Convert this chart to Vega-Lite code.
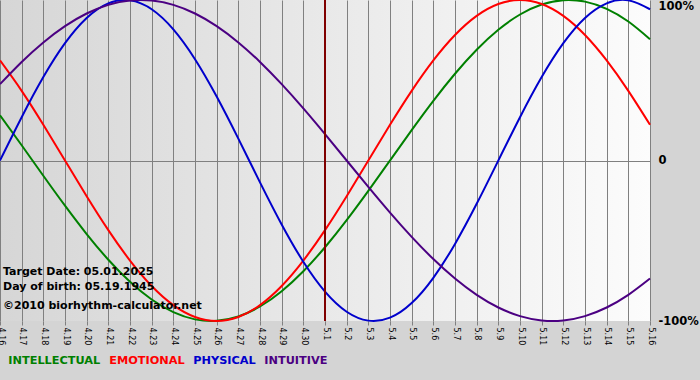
{
  "$schema": "https://vega.github.io/schema/vega-lite/v6.json",
  "width": 650,
  "height": 321,
  "autosize": {"type": "none"},
  "padding": {"left": 0, "top": 0, "right": 50, "bottom": 59},
  "background": "#d4d4d4",
  "config": {
    "view": {
      "stroke": null,
      "fill": {"gradient": "linear", "x1": 0, "y1": 0, "x2": 1, "y2": 0,
        "stops": [{"offset": 0, "color": "#d6d6d6"}, {"offset": 1, "color": "#fcfcfc"}]}
    }
  },
  "datasets": {
    "bio": [
      {"date": "2025-04-16", "INTELLECTUAL": 0.2817, "EMOTIONAL": 0.6235, "PHYSICAL": 0, "INTUITIVE": 0.4759},
      {"date": "2025-04-17", "INTELLECTUAL": 0.0951, "EMOTIONAL": 0.4339, "PHYSICAL": 0.2698, "INTUITIVE": 0.6142},
      {"date": "2025-04-18", "INTELLECTUAL": -0.0951, "EMOTIONAL": 0.2225, "PHYSICAL": 0.5196, "INTUITIVE": 0.7357},
      {"date": "2025-04-19", "INTELLECTUAL": -0.2817, "EMOTIONAL": 0, "PHYSICAL": 0.7308, "INTUITIVE": 0.8372},
      {"date": "2025-04-20", "INTELLECTUAL": -0.4582, "EMOTIONAL": -0.2225, "PHYSICAL": 0.8879, "INTUITIVE": 0.9158},
      {"date": "2025-04-21", "INTELLECTUAL": -0.6182, "EMOTIONAL": -0.4339, "PHYSICAL": 0.9791, "INTUITIVE": 0.9694},
      {"date": "2025-04-22", "INTELLECTUAL": -0.7557, "EMOTIONAL": -0.6235, "PHYSICAL": 0.9977, "INTUITIVE": 0.9966},
      {"date": "2025-04-23", "INTELLECTUAL": -0.8660, "EMOTIONAL": -0.7818, "PHYSICAL": 0.9423, "INTUITIVE": 0.9966},
      {"date": "2025-04-24", "INTELLECTUAL": -0.9449, "EMOTIONAL": -0.9010, "PHYSICAL": 0.8170, "INTUITIVE": 0.9694},
      {"date": "2025-04-25", "INTELLECTUAL": -0.9898, "EMOTIONAL": -0.9749, "PHYSICAL": 0.6311, "INTUITIVE": 0.9158},
      {"date": "2025-04-26", "INTELLECTUAL": -0.9989, "EMOTIONAL": -1, "PHYSICAL": 0.3984, "INTUITIVE": 0.8372},
      {"date": "2025-04-27", "INTELLECTUAL": -0.9718, "EMOTIONAL": -0.9749, "PHYSICAL": 0.1362, "INTUITIVE": 0.7357},
      {"date": "2025-04-28", "INTELLECTUAL": -0.9096, "EMOTIONAL": -0.9010, "PHYSICAL": -0.1362, "INTUITIVE": 0.6142},
      {"date": "2025-04-29", "INTELLECTUAL": -0.8146, "EMOTIONAL": -0.7818, "PHYSICAL": -0.3984, "INTUITIVE": 0.4759},
      {"date": "2025-04-30", "INTELLECTUAL": -0.6901, "EMOTIONAL": -0.6235, "PHYSICAL": -0.6311, "INTUITIVE": 0.3247},
      {"date": "2025-05-01", "INTELLECTUAL": -0.5406, "EMOTIONAL": -0.4339, "PHYSICAL": -0.8170, "INTUITIVE": 0.1646},
      {"date": "2025-05-02", "INTELLECTUAL": -0.3717, "EMOTIONAL": -0.2225, "PHYSICAL": -0.9423, "INTUITIVE": 0},
      {"date": "2025-05-03", "INTELLECTUAL": -0.1893, "EMOTIONAL": 0, "PHYSICAL": -0.9977, "INTUITIVE": -0.1646},
      {"date": "2025-05-04", "INTELLECTUAL": 0, "EMOTIONAL": 0.2225, "PHYSICAL": -0.9791, "INTUITIVE": -0.3247},
      {"date": "2025-05-05", "INTELLECTUAL": 0.1893, "EMOTIONAL": 0.4339, "PHYSICAL": -0.8879, "INTUITIVE": -0.4759},
      {"date": "2025-05-06", "INTELLECTUAL": 0.3717, "EMOTIONAL": 0.6235, "PHYSICAL": -0.7308, "INTUITIVE": -0.6142},
      {"date": "2025-05-07", "INTELLECTUAL": 0.5406, "EMOTIONAL": 0.7818, "PHYSICAL": -0.5196, "INTUITIVE": -0.7357},
      {"date": "2025-05-08", "INTELLECTUAL": 0.6901, "EMOTIONAL": 0.9010, "PHYSICAL": -0.2698, "INTUITIVE": -0.8372},
      {"date": "2025-05-09", "INTELLECTUAL": 0.8146, "EMOTIONAL": 0.9749, "PHYSICAL": 0, "INTUITIVE": -0.9158},
      {"date": "2025-05-10", "INTELLECTUAL": 0.9096, "EMOTIONAL": 1, "PHYSICAL": 0.2698, "INTUITIVE": -0.9694},
      {"date": "2025-05-11", "INTELLECTUAL": 0.9718, "EMOTIONAL": 0.9749, "PHYSICAL": 0.5196, "INTUITIVE": -0.9966},
      {"date": "2025-05-12", "INTELLECTUAL": 0.9989, "EMOTIONAL": 0.9010, "PHYSICAL": 0.7308, "INTUITIVE": -0.9966},
      {"date": "2025-05-13", "INTELLECTUAL": 0.9898, "EMOTIONAL": 0.7818, "PHYSICAL": 0.8879, "INTUITIVE": -0.9694},
      {"date": "2025-05-14", "INTELLECTUAL": 0.9449, "EMOTIONAL": 0.6235, "PHYSICAL": 0.9791, "INTUITIVE": -0.9158},
      {"date": "2025-05-15", "INTELLECTUAL": 0.8660, "EMOTIONAL": 0.4339, "PHYSICAL": 0.9977, "INTUITIVE": -0.8372},
      {"date": "2025-05-16", "INTELLECTUAL": 0.7557, "EMOTIONAL": 0.2225, "PHYSICAL": 0.9423, "INTUITIVE": -0.7357}
    ],
    "marker": [{"date": "2025-05-01"}],
    "notes": [
      {"date": "2025-04-16", "value": -0.695, "text": "Target Date: 05.01.2025"},
      {"date": "2025-04-16", "value": -0.79, "text": "Day of birth: 05.19.1945"},
      {"date": "2025-04-16", "value": -0.907, "text": "©2010 biorhythm-calculator.net"}
    ]
  },
  "encoding": {
    "x": {
      "field": "date", "type": "temporal",
      "scale": {"type": "utc", "nice": false},
      "axis": {
        "title": null, "format": "%-m.%-d",
        "tickCount": {"interval": "day", "step": 1},
        "labelAngle": 90, "labelFont": "DejaVu Sans", "labelFontSize": 8, "labelColor": "#000000",
        "labelOverlap": false, "labelBound": false, "labelFlush": false, "labelPadding": 2,
        "grid": true, "gridColor": "#808080", "gridWidth": 1, "gridOpacity": 1,
        "ticks": true, "tickColor": "#808080", "tickSize": 4, "domain": false
      }
    }
  },
  "layer": [
    {
      "data": {"name": "bio"},
      "transform": [{"fold": ["INTELLECTUAL", "EMOTIONAL", "PHYSICAL", "INTUITIVE"], "as": ["series", "value"]}],
      "mark": {"type": "line", "interpolate": "natural", "strokeWidth": 2},
      "encoding": {
        "y": {
          "field": "value", "type": "quantitative",
          "scale": {"domain": [-1, 1], "nice": false, "zero": false},
          "axis": {
            "title": null, "orient": "right", "values": [-1, 0, 1],
            "labelExpr": "datum.value === 1 ? '100%' : (datum.value === -1 ? '-100%' : '0')",
            "labelFont": "DejaVu Sans", "labelFontSize": 11.5, "labelFontWeight": "bold", "labelColor": "#000000",
            "labelPadding": 8, "ticks": false, "domain": false,
            "labelBaseline": {"condition": {"test": "datum.value === 1", "value": "top"}, "value": "middle"},
            "grid": true, "gridColor": "#808080", "gridWidth": 1,
            "gridOpacity": {"condition": {"test": "datum.value === 0", "value": 1}, "value": 0}
          }
        },
        "color": {
          "field": "series", "type": "nominal",
          "scale": {"domain": ["INTELLECTUAL", "EMOTIONAL", "PHYSICAL", "INTUITIVE"],
                    "range": ["#008000", "#ff0000", "#0000cc", "#4b0082"]},
          "legend": {
            "title": null, "orient": "none", "legendX": 8, "legendY": 355, "direction": "horizontal",
            "symbolSize": 0, "symbolOpacity": 0, "symbolStrokeWidth": 0, "labelOffset": -11, "columnPadding": 8,
            "labelFont": "DejaVu Sans", "labelFontSize": 11.3, "labelFontWeight": "bold", "labelLimit": 0,
            "labelColor": {"expr": "scale('color', datum.value)"}
          }
        }
      }
    },
    {
      "data": {"name": "marker"},
      "mark": {"type": "rule", "color": "#800000", "strokeWidth": 2},
      "encoding": {}
    },
    {
      "data": {"name": "notes"},
      "mark": {"type": "text", "align": "left", "baseline": "middle", "dx": 3,
               "font": "DejaVu Sans", "fontSize": 11, "fontWeight": "bold", "color": "#000000"},
      "encoding": {
        "y": {"field": "value", "type": "quantitative"},
        "text": {"field": "text"}
      }
    }
  ]
}
